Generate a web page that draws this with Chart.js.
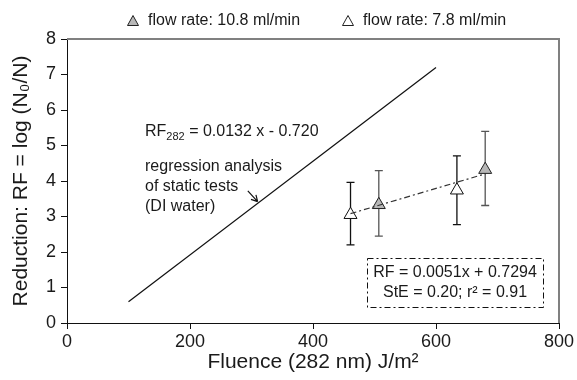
<!DOCTYPE html>
<html>
<head>
<meta charset="utf-8">
<script src="https://cdn.jsdelivr.net/npm/chart.js@4.4.1/dist/chart.umd.min.js"></script>
<style>
    html, body { margin: 0; padding: 0; background: #ffffff; }
    #wrap { width: 577px; height: 380px; }
</style>
</head>
<body>
<div id="wrap"><canvas id="chart" width="577" height="380"></canvas></div>
<script>
// Flow-through tests, 10.8 ml/min (grey triangles)
const fluence108 = [507, 680];
const rf108 = [3.33, 4.32];
const rf108Low = [2.45, 3.31];
const rf108High = [4.29, 5.40];

// Flow-through tests, 7.8 ml/min (open triangles)
const fluence78 = [461, 634];
const rf78 = [3.05, 3.74];
const rf78Low = [2.20, 2.77];
const rf78High = [3.96, 4.71];

// Regression of static tests (DI water): RF282 = 0.0132 x - 0.720
const staticFitX = [100, 600];
const staticFitY = [0.60, 7.20];

// Regression of flow tests: RF = 0.0051x + 0.7294
const flowFitX = [461, 680];
const flowFitY = [3.08, 4.20];

// Arrow pointing at the static regression line
const arrowX = [294, 310];
const arrowY = [3.72, 3.42];

const xTicks = [0, 200, 400, 600, 800];
const yTicks = [0, 1, 2, 3, 4, 5, 6, 7, 8];

const legendLabels = ['flow rate: 10.8 ml/min', 'flow rate: 7.8 ml/min'];

const FONT = '"Liberation Sans", Arial, Helvetica, sans-serif';
const TEXT = '#1a1a1a';

function toPoints(xs, ys) {
    return xs.map((x, i) => ({ x: x, y: ys[i] }));
}

// error bars, drawn under the markers
const errorBars = {
    id: 'errorBars',
    beforeDatasetsDraw(chart) {
        const { ctx, scales: { x, y } } = chart;
        const groups = [
            { xs: fluence108, lo: rf108Low, hi: rf108High, color: '#555555' },
            { xs: fluence78, lo: rf78Low, hi: rf78High, color: '#111111' }
        ];
        ctx.save();
        ctx.lineWidth = 1.3;
        groups.forEach(g => {
            ctx.strokeStyle = g.color;
            g.xs.forEach((v, i) => {
                const px = x.getPixelForValue(v);
                const top = y.getPixelForValue(g.hi[i]);
                const bot = y.getPixelForValue(g.lo[i]);
                ctx.beginPath();
                ctx.moveTo(px, top); ctx.lineTo(px, bot);
                ctx.moveTo(px - 4, top); ctx.lineTo(px + 4, top);
                ctx.moveTo(px - 4, bot); ctx.lineTo(px + 4, bot);
                ctx.stroke();
            });
        });
        ctx.restore();
    }
};

// frame, texts, arrow, fit box, legend
const decorations = {
    id: 'decorations',
    afterDraw(chart) {
        const { ctx, chartArea: a, scales: { x, y } } = chart;
        ctx.save();

        // grey top and right frame
        ctx.strokeStyle = '#808080';
        ctx.lineWidth = 2;
        ctx.beginPath();
        ctx.moveTo(a.left, a.top);
        ctx.lineTo(a.right, a.top);
        ctx.lineTo(a.right, a.bottom);
        ctx.stroke();

        // arrow
        const x0 = x.getPixelForValue(arrowX[0]), y0 = y.getPixelForValue(arrowY[0]);
        const x1 = x.getPixelForValue(arrowX[1]), y1 = y.getPixelForValue(arrowY[1]);
        const ang = Math.atan2(y1 - y0, x1 - x0);
        ctx.strokeStyle = '#111111';
        ctx.lineWidth = 1.2;
        ctx.beginPath();
        ctx.moveTo(x0, y0); ctx.lineTo(x1, y1);
        ctx.moveTo(x1, y1); ctx.lineTo(x1 - 7 * Math.cos(ang - 0.5), y1 - 7 * Math.sin(ang - 0.5));
        ctx.moveTo(x1, y1); ctx.lineTo(x1 - 7 * Math.cos(ang + 0.5), y1 - 7 * Math.sin(ang + 0.5));
        ctx.stroke();

        // static regression text
        ctx.fillStyle = TEXT;
        ctx.textBaseline = 'alphabetic';
        ctx.textAlign = 'left';
        let tx = 145;
        const ty = 136;
        ctx.font = '16px ' + FONT;
        ctx.fillText('RF', tx, ty);
        tx += ctx.measureText('RF').width;
        ctx.font = '11px ' + FONT;
        ctx.fillText('282', tx, ty + 4);
        tx += ctx.measureText('282').width;
        ctx.font = '16px ' + FONT;
        ctx.fillText(' = 0.0132 x - 0.720', tx, ty);

        ctx.fillText('regression analysis', 145, 171);
        ctx.fillText('of static tests', 145, 191);
        ctx.fillText('(DI water)', 145, 211);

        // flow regression box
        ctx.strokeStyle = '#111111';
        ctx.lineWidth = 1;
        ctx.setLineDash([6, 3, 2, 3]);
        ctx.strokeRect(367.5, 258.5, 176, 49);
        ctx.setLineDash([]);
        ctx.textAlign = 'center';
        ctx.textBaseline = 'middle';
        ctx.fillText('RF = 0.0051x + 0.7294', 455, 273);
        ctx.fillText('StE = 0.20; r\u00B2 = 0.91', 455, 293);

        // legend
        const items = [
            { label: legendLabels[0], fill: '#b8b8b8', cx: 133 },
            { label: legendLabels[1], fill: '#ffffff', cx: 348 }
        ];
        ctx.textAlign = 'left';
        items.forEach(it => {
            const cy = 21;
            ctx.beginPath();
            ctx.moveTo(it.cx, cy - 5.5);
            ctx.lineTo(it.cx + 5.5, cy + 4.5);
            ctx.lineTo(it.cx - 5.5, cy + 4.5);
            ctx.closePath();
            ctx.fillStyle = it.fill;
            ctx.fill();
            ctx.strokeStyle = '#222222';
            ctx.lineWidth = 1;
            ctx.stroke();
            ctx.fillStyle = TEXT;
            ctx.fillText(it.label, it.cx + 15, cy);
        });

        ctx.restore();
    }
};

const ctx = document.getElementById('chart');
new Chart(ctx, {
    type: 'scatter',
    data: {
        datasets: [
            {
                label: 'static fit',
                type: 'line',
                data: toPoints(staticFitX, staticFitY),
                borderColor: '#111111',
                borderWidth: 1.2,
                pointRadius: 0,
                fill: false
            },
            {
                label: 'flow fit',
                type: 'line',
                data: toPoints(flowFitX, flowFitY),
                borderColor: '#333333',
                borderWidth: 1.2,
                borderDash: [6, 3, 2, 3],
                pointRadius: 0,
                fill: false
            },
            {
                label: legendLabels[0],
                data: toPoints(fluence108, rf108),
                pointStyle: 'triangle',
                pointRadius: 7.5,
                backgroundColor: '#b8b8b8',
                borderColor: '#222222',
                borderWidth: 1
            },
            {
                label: legendLabels[1],
                data: toPoints(fluence78, rf78),
                pointStyle: 'triangle',
                pointRadius: 7.5,
                backgroundColor: '#ffffff',
                borderColor: '#111111',
                borderWidth: 1
            }
        ]
    },
    options: {
        responsive: false,
        animation: false,
        layout: { padding: { top: 39, right: 18, left: 0, bottom: 0 } },
        plugins: {
            legend: { display: false },
            tooltip: { enabled: false }
        },
        scales: {
            x: {
                type: 'linear',
                min: 0,
                max: 800,
                afterBuildTicks(scale) { scale.ticks = xTicks.map(v => ({ value: v })); },
                afterFit(scale) { scale.height = 57; },
                border: { color: '#111111', width: 1 },
                grid: { drawOnChartArea: false, drawTicks: true, tickLength: 6, color: '#111111' },
                ticks: { color: TEXT, font: { family: FONT, size: 18 }, padding: 2, maxRotation: 0 },
                title: {
                    display: true,
                    text: 'Fluence (282 nm) J/m\u00B2',
                    color: TEXT,
                    font: { family: FONT, size: 21 },
                    padding: { top: 0, bottom: 5 }
                }
            },
            y: {
                type: 'linear',
                min: 0,
                max: 8,
                afterBuildTicks(scale) { scale.ticks = yTicks.map(v => ({ value: v })); },
                afterFit(scale) { scale.width = 67; },
                border: { color: '#111111', width: 1 },
                grid: { drawOnChartArea: false, drawTicks: true, tickLength: 6, color: '#111111' },
                ticks: { color: TEXT, font: { family: FONT, size: 18 }, padding: 5 },
                title: {
                    display: true,
                    text: 'Reduction: RF = log (N\u2080/N)',
                    color: TEXT,
                    font: { family: FONT, size: 21 },
                    padding: { top: 9, bottom: 0 }
                }
            }
        }
    },
    plugins: [errorBars, decorations]
});
</script>
</body>
</html>
